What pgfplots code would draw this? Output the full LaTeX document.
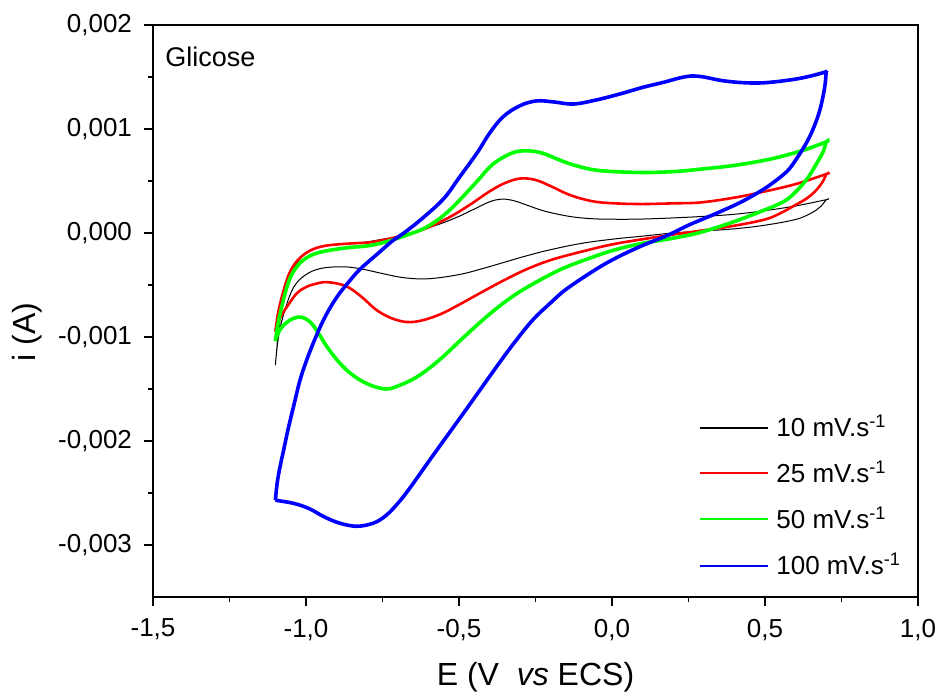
\documentclass[border=0pt]{standalone}
\usepackage{fontspec}
\setmainfont{Liberation Sans}
\usepackage{pgfplots}
\pgfplotsset{compat=1.18}
\usetikzlibrary{calc}
\definecolor{cvgreen}{RGB}{0,255,0}
\definecolor{cvblue}{RGB}{0,0,255}
\definecolor{cvred}{RGB}{255,0,0}
\begin{document}
\begin{tikzpicture}
\begin{axis}[
 scale only axis, width=382.5pt, height=286pt,
 xmin=-1.5, xmax=1.0, ymin=-0.0035, ymax=0.002,
 xtick={-1.5,-1,-0.5,0,0.5,1},
 ytick={-0.003,-0.002,-0.001,0,0.001,0.002},
 minor x tick num=1, minor y tick num=1,
 tick pos=left, tick align=outside,
 major tick length=4.5pt, minor tick length=2.5pt,
 axis line style={line width=0.9pt},
 tick style={black, line width=0.8pt},
 scaled y ticks=false, scaled x ticks=false,
 xticklabel style={yshift=-3pt, /pgf/number format/.cd, use comma, fixed, fixed zerofill, precision=1, assume math mode=true},
 yticklabel style={xshift=-2.5pt, /pgf/number format/.cd, use comma, fixed, fixed zerofill, precision=3, assume math mode=true},
 tick label style={font=\fontsize{13}{15}\selectfont},
 xlabel={E (V~ \textit{vs} ECS)}, ylabel={i (A)},
 label style={font=\fontsize{16}{19}\selectfont},
 xlabel style={at={(axis description cs:0.5,0)}, anchor=base, yshift=-44.5pt},
 ylabel style={at={(axis description cs:-0.1647,0.463)}, anchor=center},
]
% ---------- legend swatches ----------
\draw[draw=black, line width=1pt] (axis description cs:0.715,0.2960) -- ++(34pt,0pt);
\draw[draw=cvred, line width=1pt] (axis description cs:0.715,0.2163) -- ++(34pt,0pt);
\draw[draw=cvgreen, line width=1pt] (axis description cs:0.715,0.1358) -- ++(34pt,0pt);
\draw[draw=cvblue, line width=1pt] (axis description cs:0.715,0.0547) -- ++(34pt,0pt);
% ---------- 10 mV/s ----------
\addplot[black, line width=0.5pt, smooth, tension=0.6] table[y expr=\thisrow{i}/1000] {
E i
-1.10 -1.27
-1.09 -0.95
-1.075 -0.65
-1.06 -0.48
-1.04 -0.34
-1.02 -0.25
-1.00 -0.19
-0.95 -0.13
-0.90 -0.11
-0.85 -0.10
-0.80 -0.085
-0.75 -0.06
-0.70 -0.04
-0.65 0.00
-0.60 0.05
-0.55 0.10
-0.50 0.16
-0.45 0.23
-0.40 0.30
-0.36 0.326
-0.32 0.31
-0.28 0.27
-0.22 0.21
-0.15 0.165
-0.10 0.145
-0.04 0.134
0.05 0.132
0.10 0.134
0.20 0.145
0.30 0.16
0.40 0.18
0.50 0.215
0.60 0.26
0.70 0.32
0.70 0.32
0.68 0.25
0.65 0.19
0.60 0.13
0.50 0.075
0.40 0.04
0.30 0.02
0.20 0.0
0.10 -0.03
0.00 -0.06
-0.10 -0.10
-0.20 -0.16
-0.28 -0.22
-0.35 -0.28
-0.42 -0.34
-0.50 -0.40
-0.60 -0.44
-0.68 -0.43
-0.75 -0.39
-0.82 -0.345
-0.88 -0.325
-0.95 -0.34
-1.00 -0.40
-1.04 -0.52
-1.07 -0.75
-1.09 -1.00
-1.10 -1.27
};
% ---------- 25 mV/s ----------
\addplot[cvred, line width=1.3pt, smooth, tension=0.6] table[y expr=\thisrow{i}/1000] {
E i
-1.10 -0.95
-1.09 -0.75
-1.07 -0.52
-1.05 -0.36
-1.02 -0.24
-0.98 -0.16
-0.93 -0.12
-0.85 -0.10
-0.79 -0.09
-0.72 -0.05
-0.68 -0.02
-0.63 0.02
-0.58 0.08
-0.52 0.17
-0.46 0.28
-0.40 0.40
-0.35 0.48
-0.30 0.524
-0.25 0.51
-0.20 0.45
-0.15 0.38
-0.10 0.33
-0.04 0.295
0.05 0.28
0.10 0.278
0.20 0.285
0.29 0.294
0.40 0.34
0.50 0.40
0.60 0.47
0.70 0.566
0.70 0.566
0.69 0.50
0.67 0.42
0.64 0.34
0.60 0.27
0.55 0.19
0.50 0.13
0.40 0.07
0.29 0.022
0.20 -0.015
0.10 -0.06
0.00 -0.11
-0.10 -0.18
-0.20 -0.26
-0.28 -0.35
-0.35 -0.45
-0.42 -0.56
-0.50 -0.69
-0.56 -0.78
-0.62 -0.84
-0.67 -0.856
-0.72 -0.82
-0.77 -0.74
-0.82 -0.61
-0.87 -0.51
-0.93 -0.473
-0.97 -0.49
-1.00 -0.52
-1.03 -0.58
-1.06 -0.70
-1.085 -0.82
-1.10 -0.95
};
% ---------- 50 mV/s ----------
\addplot[cvgreen, line width=1.8pt, smooth, tension=0.6] table[y expr=\thisrow{i}/1000] {
E i
-1.10 -1.04
-1.09 -0.85
-1.07 -0.60
-1.05 -0.42
-1.02 -0.29
-0.98 -0.21
-0.93 -0.17
-0.86 -0.14
-0.79 -0.12
-0.72 -0.07
-0.68 -0.03
-0.61 0.05
-0.55 0.17
-0.50 0.31
-0.44 0.50
-0.39 0.66
-0.33 0.765
-0.284 0.79
-0.23 0.77
-0.17 0.70
-0.115 0.645
-0.04 0.60
0.09 0.582
0.20 0.59
0.29 0.614
0.40 0.65
0.50 0.70
0.56 0.741
0.63 0.80
0.70 0.876
0.70 0.876
0.69 0.78
0.675 0.70
0.658 0.614
0.64 0.53
0.614 0.438
0.58 0.34
0.55 0.285
0.506 0.23
0.40 0.11
0.29 0.007
0.20 -0.05
0.09 -0.105
0.00 -0.17
-0.08 -0.25
-0.16 -0.34
-0.24 -0.46
-0.32 -0.60
-0.40 -0.78
-0.48 -0.99
-0.56 -1.21
-0.63 -1.37
-0.69 -1.46
-0.74 -1.50
-0.80 -1.45
-0.85 -1.36
-0.89 -1.25
-0.93 -1.10
-0.96 -0.96
-0.985 -0.86
-1.014 -0.81
-1.04 -0.82
-1.063 -0.86
-1.085 -0.93
-1.10 -1.03
};
% ---------- 100 mV/s ----------
\addplot[cvblue, line width=1.8pt, smooth, tension=0.6] table[y expr=\thisrow{i}/1000] {
E i
-1.10 -2.57
-1.094 -2.40
-1.085 -2.25
-1.074 -2.10
-1.058 -1.88
-1.04 -1.66
-1.02 -1.42
-1.00 -1.24
-0.975 -1.05
-0.94 -0.82
-0.90 -0.62
-0.86 -0.47
-0.824 -0.35
-0.77 -0.21
-0.715 -0.07
-0.68 0.00
-0.62 0.14
-0.55 0.33
-0.50 0.53
-0.44 0.774
-0.40 0.96
-0.355 1.12
-0.30 1.225
-0.246 1.27
-0.19 1.26
-0.126 1.24
-0.05 1.28
0.03 1.34
0.10 1.40
0.17 1.45
0.22 1.49
0.26 1.51
0.30 1.50
0.36 1.465
0.43 1.445
0.50 1.445
0.59 1.475
0.65 1.51
0.70 1.55
0.70 1.55
0.695 1.40
0.68 1.19
0.66 1.02
0.636 0.87
0.60 0.70
0.571 0.59
0.52 0.47
0.484 0.40
0.42 0.295
0.342 0.19
0.25 0.075
0.179 -0.026
0.10 -0.12
0.02 -0.23
-0.05 -0.345
-0.148 -0.537
-0.20 -0.67
-0.257 -0.83
-0.31 -1.02
-0.366 -1.24
-0.475 -1.69
-0.584 -2.135
-0.66 -2.45
-0.70 -2.60
-0.74 -2.72
-0.78 -2.79
-0.834 -2.82
-0.89 -2.79
-0.94 -2.73
-0.99 -2.65
-1.04 -2.60
-1.10 -2.57
};
% ---------- legend texts ----------
\node[anchor=base west, inner sep=0pt, yshift=-4.5pt, font=\fontsize{13}{15}\selectfont] at (axis description cs:0.8144,0.2960) {10 mV.s\textsuperscript{-1}};
\node[anchor=base west, inner sep=0pt, yshift=-4.5pt, font=\fontsize{13}{15}\selectfont] at (axis description cs:0.8144,0.2163) {25 mV.s\textsuperscript{-1}};
\node[anchor=base west, inner sep=0pt, yshift=-4.5pt, font=\fontsize{13}{15}\selectfont] at (axis description cs:0.8144,0.1358) {50 mV.s\textsuperscript{-1}};
\node[anchor=base west, inner sep=0pt, yshift=-4.5pt, font=\fontsize{13}{15}\selectfont] at (axis description cs:0.8144,0.0547) {100 mV.s\textsuperscript{-1}};
\node[anchor=base west, inner sep=0pt, xshift=6pt, yshift=-21pt, font=\fontsize{13.5}{16}\selectfont] at (rel axis cs:0,1) {Glicose};
\end{axis}
\pgfresetboundingbox
\path[use as bounding box] ($(current axis.south west)+(-76.5pt,-47.5pt)$) rectangle ($(current axis.north east)+(10pt,12.5pt)$);
\end{tikzpicture}
\end{document}
